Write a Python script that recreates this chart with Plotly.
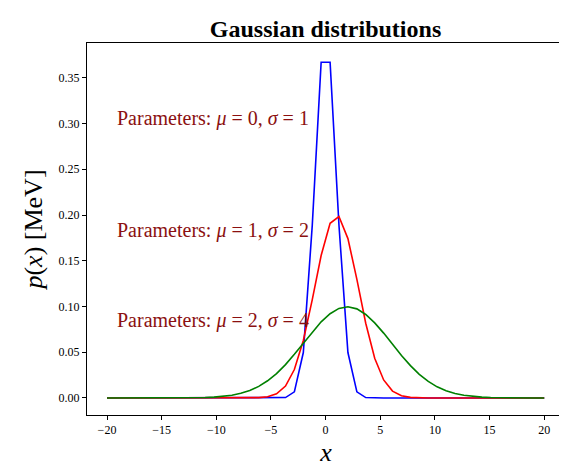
import plotly.graph_objects as go

x = [-20.0, -19.18, -18.37, -17.55, -16.73, -15.92, -15.1, -14.29, -13.47, -12.65,
     -11.84, -11.02, -10.2, -9.39, -8.57, -7.76, -6.94, -6.12, -5.31, -4.49,
     -3.67, -2.86, -2.04, -1.22, -0.41, 0.41, 1.22, 2.04, 2.86, 3.67,
     4.49, 5.31, 6.12, 6.94, 7.76, 8.57, 9.39, 10.2, 11.02, 11.84,
     12.65, 13.47, 14.29, 15.1, 15.92, 16.73, 17.55, 18.37, 19.18, 20.0]

blue = [0]*20 + [0.00047, 0.0067, 0.0497, 0.189, 0.367, 0.367, 0.189, 0.0497, 0.0067, 0.00047] + [0]*20
red = [0]*16 + [0.00008, 0.00035, 0.0014, 0.0046, 0.0130, 0.0311, 0.0628, 0.1075, 0.1557,
                0.1909, 0.1983, 0.1742, 0.1297, 0.0817, 0.0435, 0.0197, 0.0075, 0.0024,
                0.0007, 0.00016] + [0]*14
green = [0, 0, 0, 0, 0, 0, 0, 0.000025, 0.00006, 0.00012,
         0.00025, 0.0005, 0.00095, 0.0017, 0.0030, 0.0051, 0.0082, 0.0127, 0.0188, 0.0267,
         0.0365, 0.0477, 0.0599, 0.0721, 0.0832, 0.0921, 0.0979, 0.0997, 0.0974, 0.0913,
         0.0821, 0.0709, 0.0586, 0.0465, 0.0354, 0.0259, 0.0181, 0.0122, 0.0078, 0.0048,
         0.0029, 0.0016, 0.00089, 0.00047, 0.00023, 0.00011, 0.00005, 0, 0, 0]

labels = ["Parameters: <i>μ</i> = 0, <i>σ</i> = 1",
          "Parameters: <i>μ</i> = 1, <i>σ</i> = 2",
          "Parameters: <i>μ</i> = 2, <i>σ</i> = 4"]
label_y = [0.305, 0.183, 0.085]

serif = "Liberation Serif"
fig = go.Figure()
for y, c in [(blue, "blue"), (red, "red"), (green, "green")]:
    fig.add_trace(go.Scatter(x=x, y=y, mode="lines", line=dict(color=c, width=1.6), showlegend=False))
for t, ly in zip(labels, label_y):
    fig.add_annotation(x=-19.3, y=ly, text=t, showarrow=False, xanchor="left", yanchor="middle",
                       font=dict(family=serif, size=20, color="#8b1010"))

ax = dict(showgrid=False, zeroline=False, showline=True, mirror=True, linecolor="black", linewidth=1,
          ticks="outside", ticklen=4, tickcolor="black", automargin=False,
          tickfont=dict(family=serif, size=12, color="black"))
fig.update_layout(
    width=567, height=469, plot_bgcolor="white", paper_bgcolor="white",
    margin=dict(l=79, r=10, t=35, b=62),
    title=dict(text="<b>Gaussian distributions</b>", x=0.56, xanchor="center", y=0.975,
               font=dict(family=serif, size=24, color="black")),
    xaxis=dict(**ax, range=[-21.83, 21.9], tickvals=[-20, -15, -10, -5, 0, 5, 10, 15, 20],
               ticktext=["−20", "−15", "−10", "−5", "0", "5", "10", "15", "20"],
               title=dict(text="<i>x</i>", font=dict(family=serif, size=26, color="black"), standoff=6)),
    yaxis=dict(**ax, range=[-0.0186, 0.388], tickvals=[0, 0.05, 0.1, 0.15, 0.2, 0.25, 0.3, 0.35],
               tickformat=".2f",
               title=dict(text="<i>p</i>(<i>x</i>) [MeV]", font=dict(family=serif, size=26, color="black"), standoff=8)),
)
fig.write_html("out.html")
